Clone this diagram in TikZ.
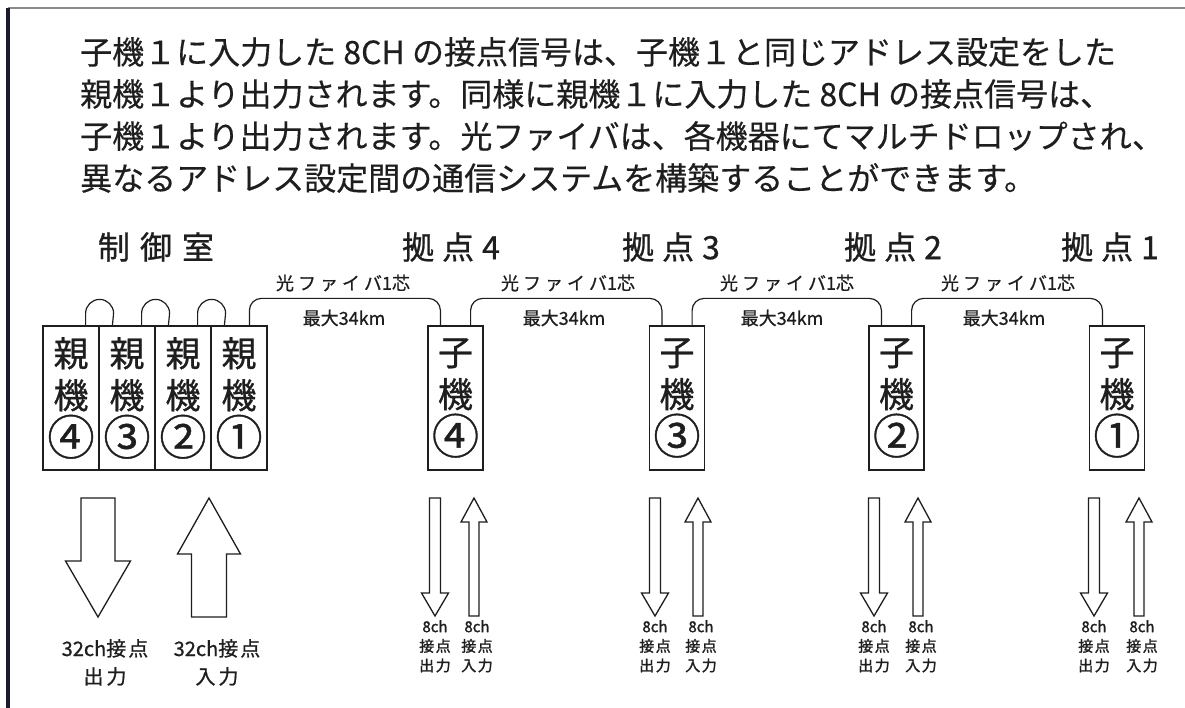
\documentclass[tikz,border=0pt]{standalone}
\usepackage{fontspec}
\setmainfont{Noto Sans CJK JP}
\newfontfamily\jpmed[FakeBold=0.35]{Noto Sans CJK JP}
\newfontfamily\jpsemi[FakeBold=0.8]{Noto Sans CJK JP}
\newfontfamily\jpbold[FakeBold=1.5]{Noto Sans CJK JP}
\usetikzlibrary{calc}
\definecolor{ink}{HTML}{1E1E1E}
\definecolor{framegray}{HTML}{8A8A8A}
\definecolor{framedark}{HTML}{1A1A30}
\newcommand{\fsz}[2]{\fontsize{#1}{#2}\selectfont}
\newcommand{\cnum}[1]{\raisebox{-0.12em}{\scalebox{1.35}{#1}}}
\tikzset{
  smalldown/.pic={\path[arrowshape] (-5.5,0) -- (-5.5,95) -- (-13.5,95) -- (0,118) -- (13.5,95) -- (5.5,95) -- (5.5,0) -- cycle;},
  smallup/.pic={\path[arrowshape] (0,0) -- (13,24) -- (5,24) -- (5,118) -- (-5,118) -- (-5,24) -- (-13,24) -- cycle;},
  bigdown/.pic={\path[arrowshape] (-17,0) -- (-17,63) -- (-32.5,63) -- (0,119) -- (32.5,63) -- (17,63) -- (17,0) -- cycle;},
  bigup/.pic={\path[arrowshape] (0,0) -- (31.5,56) -- (17.5,56) -- (17.5,119) -- (-17.5,119) -- (-17.5,56) -- (-31.5,56) -- cycle;},
}
\begin{document}
\begin{tikzpicture}[x=1pt,y=-1pt,
  every node/.style={text=ink, inner sep=0pt},
  para/.style={anchor=west, font=\jpmed\fsz{32}{36}},
  head/.style={font=\jpsemi\fsz{32}{38}},
  unitbox/.style={draw=ink, line width=1.2pt, minimum width=56pt, minimum height=144pt, align=center, font=\jpsemi\fsz{35}{42}},
  fiber/.style={draw=ink, line width=1.2pt, rounded corners=12pt},
  loopline/.style={draw=ink, line width=1.2pt},
  flabel/.style={font=\jpsemi\fsz{18}{22}},
  arrowshape/.style={draw=ink, line width=1.3pt, line join=miter, fill=white},
  smalllabel/.style={font=\jpbold\fsz{15}{19.5}, align=center, anchor=north},
  biglabel/.style={font=\jpsemi\fsz{20}{28}, align=center, anchor=north},
]
\useasboundingbox[fill=white] (0,0) rectangle (1185,708);
% frame
\draw[framegray, line width=1.5pt] (8,8) -- (1185,8);
\draw[framedark, line width=3.5pt] (8,8) -- (8,708);

% paragraph
\node[para] (t1) at (80,52) {子機１に入力した 8CH の接点信号は、子機１と同じアドレス設定をした};
\node[para] (t2) at (80,94) {親機１より出力されます。同様に親機１に入力した 8CH の接点信号は、};
\node[para] (t3) at (80,136) {子機１より出力されます。光ファイバは、各機器にてマルチドロップされ、};
\node[para] (t4) at (80,178) {異なるアドレス設定間の通信システムを構築することができます。};

% headings
\node[head] (hc) at (156,247) {制\hspace{10pt}御\hspace{10pt}室};
\node[head] (h4) at (451,247) {拠\hspace{8pt}点\hspace{8pt}4};
\node[head] (h3) at (671,247) {拠\hspace{8pt}点\hspace{8pt}3};
\node[head] (h2) at (893,247) {拠\hspace{8pt}点\hspace{8pt}2};
\node[head] (h1) at (1110,247) {拠\hspace{8pt}点\hspace{8pt}1};

% parent units
\node[unitbox] (p4) at (71,398) {親\\機\\\cnum{④}};
\node[unitbox] (p3) at (127,398) {親\\機\\\cnum{③}};
\node[unitbox] (p2) at (183,398) {親\\機\\\cnum{②}};
\node[unitbox] (p1) at (239,398) {親\\機\\\cnum{①}};

% child units
\node[unitbox, minimum width=55pt] (c4) at (455.5,398) {子\\機\\\cnum{④}};
\node[unitbox, minimum width=55pt] (c3) at (677,398) {子\\機\\\cnum{③}};
\node[unitbox, minimum width=55pt] (c2) at (896.5,398) {子\\機\\\cnum{②}};
\node[unitbox, minimum width=55pt] (c1) at (1117,398) {子\\機\\\cnum{①}};

% loops between parent units
\draw[loopline] ([xshift=-14pt]p4.north east) -- ++(0,-12) arc[start angle=180,end angle=360,radius=14] -- ([xshift=14pt]p3.north west);
\draw[loopline] ([xshift=-14pt]p3.north east) -- ++(0,-12) arc[start angle=180,end angle=360,radius=14] -- ([xshift=14pt]p2.north west);
\draw[loopline] ([xshift=-14pt]p2.north east) -- ++(0,-12) arc[start angle=180,end angle=360,radius=14] -- ([xshift=14pt]p1.north west);

% fibers
\draw[fiber] ([xshift=39pt]p1.north west) -- ++(0,-27) -| ([xshift=13pt]c4.north west);
\draw[fiber] ([xshift=-13pt]c4.north east) -- ++(0,-27) -| ([xshift=13pt]c3.north west);
\draw[fiber] ([xshift=-13pt]c3.north east) -- ++(0,-27) -| ([xshift=13pt]c2.north west);
\draw[fiber] ([xshift=-13pt]c2.north east) -- ++(0,-27) -| ([xshift=13.5pt]c1.north west);

% fiber labels
\node[flabel] (f1) at (343,283) {光\hspace{4pt}フ\hspace{4pt}ァ\hspace{4pt}イ\hspace{4pt}バ1芯};
\node[flabel] (f2) at (568,283) {光\hspace{4pt}フ\hspace{4pt}ァ\hspace{4pt}イ\hspace{4pt}バ1芯};
\node[flabel] (f3) at (787,283) {光\hspace{4pt}フ\hspace{4pt}ァ\hspace{4pt}イ\hspace{4pt}バ1芯};
\node[flabel] (f4) at (1008,283) {光\hspace{4pt}フ\hspace{4pt}ァ\hspace{4pt}イ\hspace{4pt}バ1芯};
\node[flabel] (k1) at (344,318) {最大34km};
\node[flabel] (k2) at (564,318) {最大34km};
\node[flabel] (k3) at (782,318) {最大34km};
\node[flabel] (k4) at (1004,318) {最大34km};

% big arrows
\pic at (98,498) {bigdown};
\pic at (209,498) {bigup};
\node[biglabel] (bo) at (105,639) {32ch接\hspace{2pt}点\\出\hspace{3pt}力};
\node[biglabel] (bi) at (217,639) {32ch接\hspace{2pt}点\\入\hspace{3pt}力};

% small arrows
\foreach \d/\u/\n in {435/474/4, 655/698/3, 874/918/2, 1094/1139/1}{
  \pic at (\d,498) {smalldown};
  \pic at (\u,498) {smallup};
  \node[smalllabel] (so\n) at (\d,620) {8ch\\接\hspace{1.5pt}点\\出\hspace{1.5pt}力};
  \node[smalllabel] (si\n) at (\u+3,620) {8ch\\接\hspace{1.5pt}点\\入\hspace{1.5pt}力};
}
\end{tikzpicture}
\end{document}
